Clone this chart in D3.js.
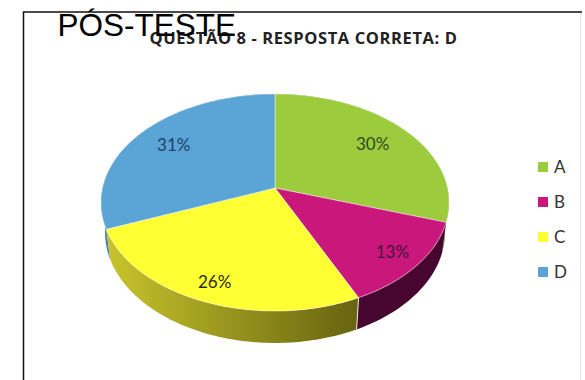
<!DOCTYPE html>
<html lang="pt">
<head>
<meta charset="utf-8">
<title>Pós-teste: questão 8</title>
<script src="https://cdn.jsdelivr.net/npm/d3@7/dist/d3.min.js"></script>
<style>
  html, body { margin: 0; padding: 0; background: #fff; }
  svg { display: block; }
</style>
</head>
<body>
<svg id="chart" width="585" height="380"></svg>
<script>
// Answer shares for question 8, in percent
const categories = ["A", "B", "C", "D"];
const shares = [30, 13, 26, 31];
const topColors = ["#9ccb3e", "#c9177b", "#ffff33", "#5aa5d6"];
const wallLight = ["#7fa532", "#5c0b44", "#c9c52c", "#4f86ad"];
const wallDark = ["#6b8a2a", "#47062f", "#66620f", "#36607f"];
const labelColors = ["#2c4a1c", "#4a1040", "#2b2b1c", "#1e3f68"];
const labelReach = [0.74, 0.84, 0.85, 0.75];

const svg = d3.select("#chart");
const defs = svg.append("defs");

// Tilted disc: a homography sends the unit circle to an ellipse whose
// apex sits above the ellipse's centre, giving the perspective look.
const tilt = 0.1336;
const upper = { cx: 275, cy: 188, w: 172.5, h: 106.6 };
const lower = { cx: 275, cy: 217.5, w: 168.5, h: 108.7 };

function project(level, angle, r = 1) {
  const u = r * Math.sin(angle), v = r * Math.cos(angle);
  const d = 1 + tilt * v;
  return [level.cx + level.w * u / d, level.cy - level.h * v / d];
}

const arcs = d3.pie().sort(null).startAngle(0).endAngle(2 * Math.PI)(shares);
const line = d3.line();

function rim(level, a0, a1) {
  const n = Math.max(2, Math.ceil((a1 - a0) / 0.02));
  return d3.range(n + 1).map(i => project(level, a0 + (a1 - a0) * i / n));
}

// Outer walls, painted from the back of the disc towards the viewer
arcs.forEach((a, i) => {
  const g = defs.append("linearGradient")
    .attr("id", `wall-${i}`)
    .attr("gradientUnits", "userSpaceOnUse")
    .attr("x1", 105).attr("x2", 360).attr("y1", 0).attr("y2", 0);
  g.append("stop").attr("offset", 0).attr("stop-color", wallLight[i]);
  g.append("stop").attr("offset", 1).attr("stop-color", wallDark[i]);
});

const walls = svg.append("g");
[0, 3, 1, 2].forEach(i => {
  const a = arcs[i];
  const pts = rim(upper, a.startAngle, a.endAngle)
    .concat(rim(lower, a.startAngle, a.endAngle).reverse());
  walls.append("path")
    .attr("d", line(pts) + "Z")
    .attr("fill", `url(#wall-${i})`);
});

// Seam between the B and C walls
const seam = arcs[1].endAngle;
svg.append("path")
  .attr("d", line([project(upper, seam), project(lower, seam)]))
  .attr("stroke", "#f1e6ea").attr("stroke-width", 1).attr("fill", "none");

// Top faces
svg.append("g").selectAll("path").data(arcs).join("path")
  .attr("d", a => line([[upper.cx, upper.cy], ...rim(upper, a.startAngle, a.endAngle)]) + "Z")
  .attr("fill", (a, i) => topColors[i])
  .attr("stroke", "#fff")
  .attr("stroke-opacity", 0.55)
  .attr("stroke-width", 0.8)
  .attr("stroke-linejoin", "round");

// Percentage labels on the slices
svg.append("g").selectAll("text").data(arcs).join("text")
  .attr("transform", (a, i) => {
    const [x, y] = project(upper, (a.startAngle + a.endAngle) / 2, labelReach[i]);
    return `translate(${x},${y})`;
  })
  .attr("text-anchor", "middle")
  .attr("dy", "0.35em")
  .attr("font-family", "Lato, 'Open Sans', sans-serif")
  .attr("font-size", 17)
  .attr("fill", (a, i) => labelColors[i])
  .text(a => `${a.data}%`);

// Legend
const legendY = d3.scalePoint().domain(categories).range([167, 272]);
const legend = svg.append("g").selectAll("g").data(categories).join("g")
  .attr("transform", c => `translate(538,${legendY(c)})`);
legend.append("rect")
  .attr("x", 0).attr("y", -5).attr("width", 10).attr("height", 10)
  .attr("fill", (c, i) => topColors[i]);
legend.append("text")
  .attr("x", 16).attr("dy", "0.36em")
  .attr("font-family", "Lato, 'Open Sans', sans-serif")
  .attr("font-size", 17)
  .attr("fill", "#333")
  .text(c => c);

// Chart frame: dark on the top and left, a faint edge on the right
svg.append("path").attr("d", "M23.5,380V12H582")
  .attr("fill", "none").attr("stroke", "#111").attr("stroke-width", 1.5);
svg.append("path").attr("d", "M580.5,13V380")
  .attr("fill", "none").attr("stroke", "#e4e4e4").attr("stroke-width", 1);

// Chart title, with the slide heading printed over it
svg.append("text")
  .attr("x", 303.5).attr("y", 43.5)
  .attr("text-anchor", "middle")
  .attr("font-family", "'Open Sans', Lato, sans-serif")
  .attr("font-weight", 700)
  .attr("font-size", 16.5)
  .attr("letter-spacing", 0.6)
  .attr("fill", "#222")
  .text("QUESTÃO 8 - RESPOSTA CORRETA: D");
svg.append("text")
  .attr("x", 57.5).attr("y", 36)
  .attr("font-family", "'Liberation Sans', Arial, sans-serif")
  .attr("font-size", 31.5)
  .attr("fill", "#000")
  .text("PÓS-TESTE");
</script>
</body>
</html>
